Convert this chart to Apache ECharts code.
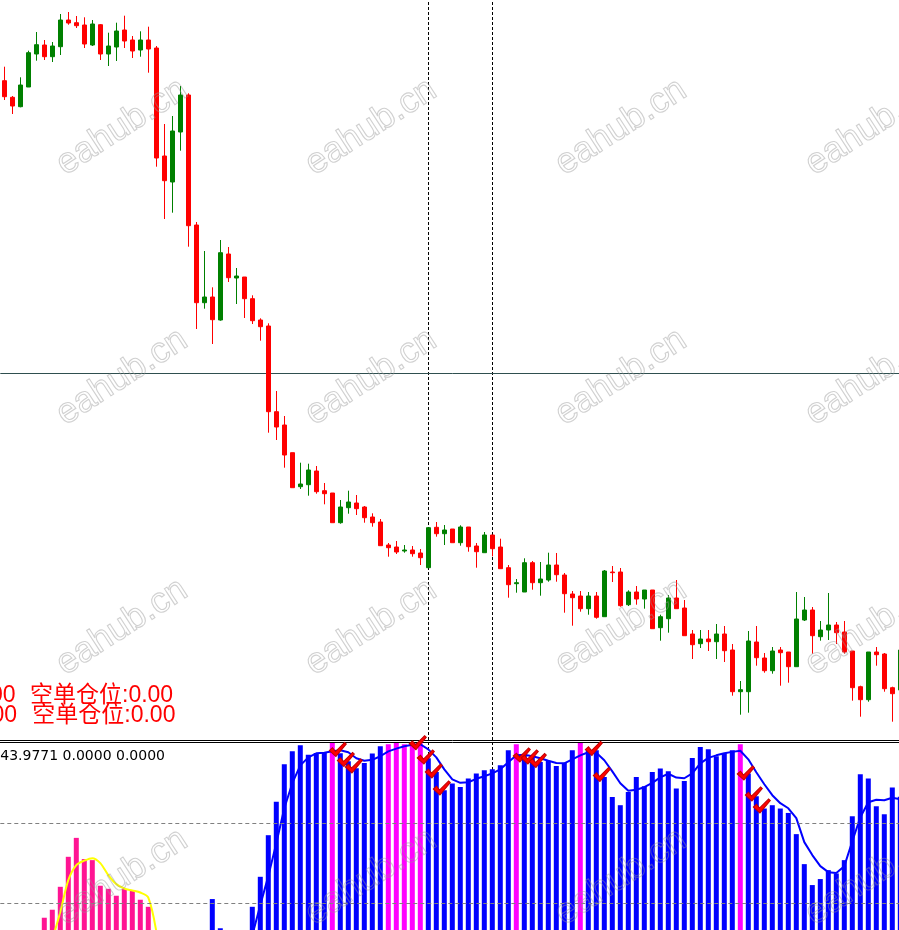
<!DOCTYPE html>
<html>
<head>
<meta charset="utf-8">
<script src="https://cdn.jsdelivr.net/npm/echarts@6/dist/echarts.min.js"></script>
<style>
html,body{margin:0;padding:0;background:#fff;overflow:hidden;}
#c{width:912px;height:930px;}
</style>
</head>
<body>
<div id="c"></div>
<script>
// ---- price panel (points) ----
const opens = [659.3,642.7,633.3,653,686,695,683.3,693.3,720,717.3,715,695,715.3,686,693,710,700,690,700,692,584,558,608,645,515,437.3,443,420,486,462,463,441.3,420,414,328.3,315,287.3,253.3,255.3,269,249.3,247,217.3,232.3,237,233,223,218,195,193,189,190,187,172.3,212.7,206.3,211,197.3,213,194,187.3,205,193,172.3,156.3,148,177.3,157.3,160,175,165,146,144,131.3,144,123.3,168,168,135.3,148,141,150,112.3,121.3,142,132,106,96.3,101,98.3,106,90,48.3,48.3,98,82,69.3,90,88,73.3,120,130,103.3,110,115,108,89,53.3,40.3,88,86,52.3,50];
const closes = [643.3,634,655,687.3,695.3,683.3,694,720,717,714.3,696,716,686,694,709,699,689,700,691,582,559.3,609,645,514.3,437.3,443,420.3,487.3,462.3,464,441.3,419.3,413.3,328.3,313,285,252.3,256,270,248.3,246.3,217.3,233,238,231.3,222.3,217.3,194.3,192.3,188,190,186.3,182.3,212.3,206.3,210,197.3,213,193.3,188.3,205,191.3,171.3,155.3,157.3,177.3,157.3,161,175,165.3,146.3,142.3,131.3,144,122.7,169,167.3,134.3,148,141,150,111.3,123.3,142,131.3,104.3,95.3,101,98.3,106,89.3,48.3,50.3,99,82.3,69.3,89,87.3,73.3,121,130,104.3,110,115,107.3,88,52.3,40.3,88,85.3,51.3,46.3,90];
const lows = [640,626,632.7,653,679.3,680,678,685,715.3,712,692,694,680,674,679,692,682,683.3,667.3,573.3,521,527.3,589.3,493.3,411,431.3,396,419.3,458,436,422,416,399.3,307.3,300,272.3,252.3,251,244.3,246.3,235.7,217.3,216.3,226.3,225,217.3,213.3,194.3,183.3,186,187.3,183.3,175,172.3,203.3,195,197.3,194.3,188.3,172.3,187.3,183.7,171.3,142.3,147.3,148,150.3,144.3,158.3,158.3,127.3,114.3,128.3,125.3,121.3,123.3,158,133.3,134,135.3,131.3,111.3,99.3,107.3,131.3,104.3,81,92,89,81,78,44.3,25.3,27.3,74.3,67.3,66.3,54.3,57.3,73.3,119,86.3,99.3,100,96,86.3,39.3,23.3,38.3,74.3,48.3,18.3,47.3];
const highs = [673.3,644,662.7,689.3,708,700,698,726,728,724,722.7,720,716,707.3,717.3,724.3,704,708.7,713.3,694,616,624,654,646.7,518,489,452.7,500,493,472,463,444.7,421.7,416.7,349,324,287.3,277.3,276.3,274,257,247,240,249.3,245,234,226.7,221,197,199,195,194,191,212.3,218,215,211,214.7,213,197,208,205,201.3,175,161,181.7,179,178,187.3,187,167,149,149,148,148,170,174,172,149.7,154,150,150,125.3,145,160,140,110,110,110,116,114,96,59,109,114,87,93,93,88,148,143,133,119,147,118,119,89,54.3,88,93,87,53.3,99];
const categories = opens.map((_, i) => 'K' + (i + 1));

// crosshair
const crossXIdx = [53, 61];
const crossPrice = 366.7;

// ---- indicator panel ----
const hist = [null,null,null,null,null,9.2,15.2,32.4,54.9,69.1,53.2,52.4,33.2,30.9,25.7,30.7,29.4,22.7,17.4,
null,null,null,null,null,null,null,23.2,1.3,null,null,null,
17.4,39.9,71.1,96.1,124.3,134.0,138.5,131.5,132.7,133.0,140.2,132.5,126.5,121.3,125.3,132.3,137.8,139.3,140.2,139.3,140.0,140.0,
128.8,118.5,104.8,109.8,107.3,113.6,117.3,119.8,120.5,123.5,134.8,139.3,131.0,129.5,126.0,126.8,123.0,125.3,134.8,140.2,135.3,134.8,
114.8,99.8,93.6,103.5,114.8,107.8,118.5,121.1,119.0,106.1,111.8,129.0,137.2,135.5,130.3,132.7,134.8,139.3,117.3,100.3,91.1,93.6,91.1,87.8,
71.9,49.4,33.7,38.2,44.9,42.4,52.4,85.3,116.8,113.6,92.8,86.8,106.8,100];
// P = deep pink, B = blue, M = magenta
const histState = ('BBBBBPPPPPPPPPPPPPPBBBBBBBBBBBBBBBBBBBBBBMBBBBBBMMMMMBBBBBBBBBBBMBBBBBBBMBBBBBBBBBBBBBBBBBBBMBBBBBBBBBBBBBBBBBBBBB').split('');
const yellowLine = [null,null,null,null,null,null,-7,13.5,37.4,48.7,52,53.9,50.2,41.2,34.4,31.1,29.6,28.1,24.3,-1];
const blueLine = [null,null,null,null,null,null,null,null,null,null,null,null,null,null,null,null,null,null,null,null,null,null,null,null,null,null,null,null,null,null,null,
-4,18.7,40.4,65.1,91.3,110.1,123.5,129.5,132.5,132.9,134.0,134.8,133.3,128.8,126.9,127.6,130.3,134.0,136.0,137.8,138.9,139.3,
135.5,129.5,120.5,113.0,110.4,110.8,113.4,115.3,117.5,120.5,125.8,131.0,131.5,130.3,128.8,126.9,125.3,125.0,128.0,131.0,133.3,132.9,
127.3,119.0,110.1,104.4,105.2,107.1,110.4,114.5,117.2,114.3,113.8,117.5,125.0,129.1,131.0,132.5,133.6,134.4,128.0,118.3,109.3,101.1,95.1,91.3,
83.9,65.9,56.2,47.9,43.4,42.7,47.9,66.6,84.6,95.8,97.7,97.3,99.2,98.1];
const levels = [20, 80];
const checks = [[41,135.4],[42,127.9],[43,123],[51,140.5],[52,129.8],[53,119.3],[54,106.5],[64,131.3],[65,129.8],[66,127.1],[73,136.1],[74,116.6],[92,117.8],[93,102],[94,93]];
const infoText = '43.9771 0.0000 0.0000';
const posLong = '多单仓位:0.00';
const posShort = '空单仓位:0.00';

const stateColor = {P:'#ff1493', B:'#0000ff', M:'#ff00ff'};
const nulls = categories.map(() => null);

const chart = echarts.init(document.getElementById('c'), null, {renderer:'canvas'});

const wm = [];
[127, 377, 627, 877].forEach(cy => {
  [122, 371, 621, 871].forEach(cx => {
    wm.push({
      type:'text', x:cx, y:cy, rotation: 33*Math.PI/180, z:100, silent:true,
      style:{text:'eahub.cn', font:'36px "Liberation Sans", Arial, sans-serif',
        fill:'rgba(0,0,0,0)', stroke:'rgba(150,150,150,0.45)', lineWidth:1.1,
        align:'center', verticalAlign:'middle'}
    });
  });
});

const redFont = '23px "Liberation Sans", "Noto Sans CJK SC", sans-serif';
const texts = [
  {type:'text', x:15.5, y:695.7, z:101, silent:true, style:{text:posLong, font:redFont, fill:'#ff0000', align:'right', verticalAlign:'middle'}},
  {type:'text', x:30, y:695.7, z:101, silent:true, style:{text:posShort, font:redFont, fill:'#ff0000', align:'left', verticalAlign:'middle'}},
  {type:'text', x:17, y:715.7, z:101, silent:true, style:{text:posLong, font:redFont, fill:'#ff0000', align:'right', verticalAlign:'middle'}},
  {type:'text', x:32.3, y:715.7, z:101, silent:true, style:{text:posShort, font:redFont, fill:'#ff0000', align:'left', verticalAlign:'middle'}},
  {type:'text', x:165, y:756, z:101, silent:true, style:{text:infoText, font:'14px "DejaVu Sans", sans-serif', fill:'#000000', align:'right', verticalAlign:'middle'}}
];

const axisCommon = {
  type:'category', data:categories, boundaryGap:true,
  axisTick:{show:false}, axisLabel:{show:false}, splitLine:{show:false},
  axisLine:{show:true, onZero:false, lineStyle:{color:'#000', width:1}}
};

const option = {
  animation:false,
  backgroundColor:'#ffffff',
  grid:[
    {left:0.3, top:0, width:904, height:740},
    {left:0.3, top:742, width:904, height:188}
  ],
  xAxis:[
    Object.assign({gridIndex:0, position:'bottom'}, axisCommon),
    Object.assign({gridIndex:1, position:'top'}, axisCommon)
  ],
  yAxis:[
    {gridIndex:0, type:'value', min:0, max:740, show:false},
    {gridIndex:1, type:'value', min:0, max:141, show:false}
  ],
  series:[
    {
      type:'line', xAxisIndex:0, yAxisIndex:0, data:nulls, z:1, symbol:'none', silent:true,
      markLine:{z:1, symbol:'none', silent:true, label:{show:false}, animation:false,
        data:[
          {xAxis:categories[crossXIdx[0]], lineStyle:{color:'#000', type:[3,2], width:1}},
          {xAxis:categories[crossXIdx[1]], lineStyle:{color:'#000', type:[3,2], width:1}},
          {yAxis:crossPrice, lineStyle:{color:'#2f4f4f', type:'solid', width:1}}
        ]}
    },
    {
      type:'candlestick', xAxisIndex:0, yAxisIndex:0, z:2, barWidth:4,
      data: opens.map((o, i) => [o, closes[i], lows[i], highs[i]]),
      itemStyle:{color:'#008000', color0:'#ff0000', borderColor:'#008000', borderColor0:'#ff0000', borderWidth:1}
    },
    {
      type:'line', xAxisIndex:1, yAxisIndex:1, data:nulls, z:1, symbol:'none', silent:true,
      markLine:{z:1, symbol:'none', silent:true, label:{show:false}, animation:false,
        data:[
          {xAxis:categories[crossXIdx[0]], lineStyle:{color:'#000', type:[3,2], width:1}},
          {xAxis:categories[crossXIdx[1]], lineStyle:{color:'#000', type:[3,2], width:1}}
        ]}
    },
    {
      type:'bar', xAxisIndex:1, yAxisIndex:1, z:2, barWidth:5,
      data: hist.map((v, i) => ({value:v, itemStyle:{color:stateColor[histState[i]]}}))
    },
    {
      type:'line', xAxisIndex:1, yAxisIndex:1, z:3, data:yellowLine, symbol:'none', smooth:0.3,
      lineStyle:{color:'#ffff00', width:2}
    },
    {
      type:'line', xAxisIndex:1, yAxisIndex:1, z:3, data:blueLine, symbol:'none',
      lineStyle:{color:'#0000ff', width:2}
    },
    {
      type:'line', xAxisIndex:1, yAxisIndex:1, data:nulls, z:4, symbol:'none', silent:true,
      markLine:{z:4, symbol:'none', silent:true, label:{show:false}, animation:false,
        lineStyle:{color:'#808080', type:[4,3], width:1},
        data: levels.map(l => ({yAxis:l}))}
    },
    {
      type:'scatter', xAxisIndex:1, yAxisIndex:1, z:5, clip:false,
      data:checks,
      symbol:'path://M0,8L3.2,5.3L6.2,9L15.3,0L17,1.6L6.6,14Z',
      symbolSize:[17,14], symbolOffset:[5.5,0],
      itemStyle:{color:'#ff0000', borderColor:'#c00000', borderWidth:1, opacity:1}
    }
  ],
  graphic: wm.concat(texts)
};
chart.setOption(option);
</script>
</body>
</html>
